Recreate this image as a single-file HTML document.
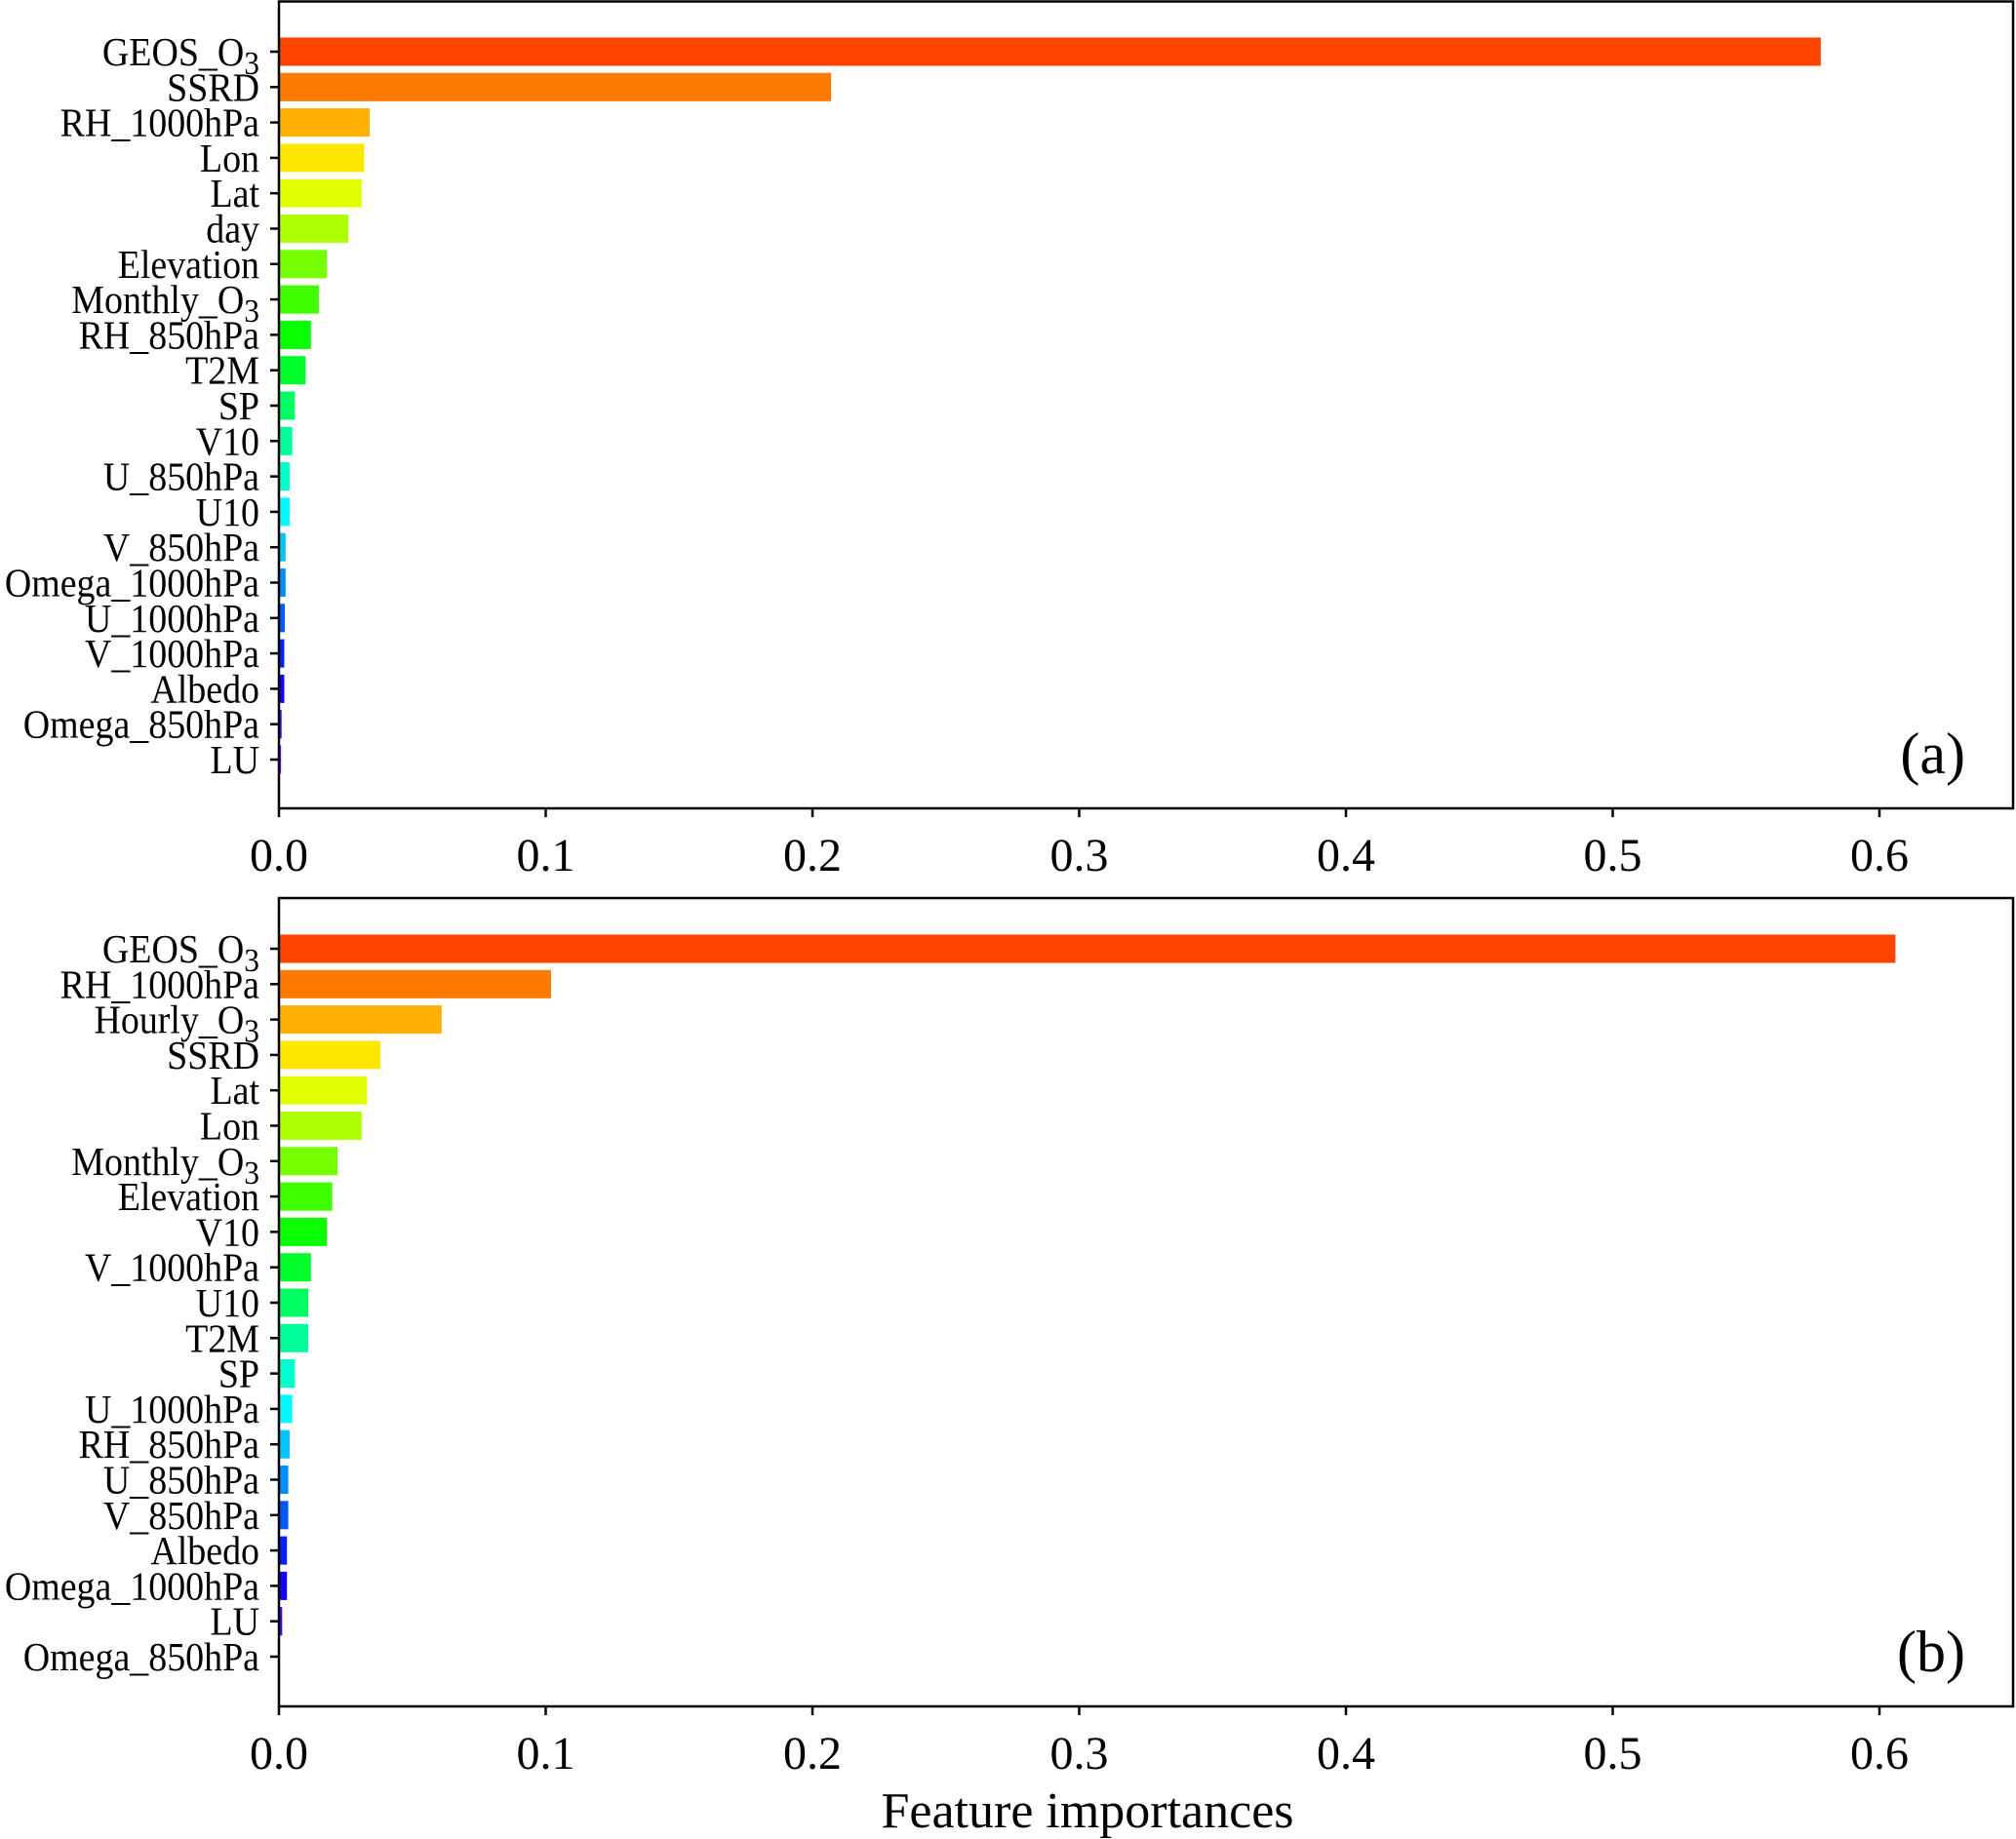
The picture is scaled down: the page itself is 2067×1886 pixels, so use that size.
<!DOCTYPE html>
<html><head><meta charset="utf-8"><style>
html,body{margin:0;padding:0;background:#fff}
svg{display:block;font-family:"Liberation Serif",serif}
</style></head><body>
<svg id="fig" width="2067" height="1886" viewBox="0 0 2067 1886"></svg>
<script>
const labelsA = ["GEOS_O3","SSRD","RH_1000hPa","Lon","Lat","day","Elevation","Monthly_O3","RH_850hPa","T2M","SP","V10","U_850hPa","U10","V_850hPa","Omega_1000hPa","U_1000hPa","V_1000hPa","Albedo","Omega_850hPa","LU"];
const valuesA = [0.578,0.207,0.034,0.032,0.031,0.026,0.018,0.015,0.012,0.010,0.006,0.005,0.004,0.004,0.0025,0.0025,0.0022,0.002,0.002,0.001,0.0008];
const labelsB = ["GEOS_O3","RH_1000hPa","Hourly_O3","SSRD","Lat","Lon","Monthly_O3","Elevation","V10","V_1000hPa","U10","T2M","SP","U_1000hPa","RH_850hPa","U_850hPa","V_850hPa","Albedo","Omega_1000hPa","LU","Omega_850hPa"];
const valuesB = [0.606,0.102,0.061,0.038,0.033,0.031,0.022,0.020,0.018,0.012,0.011,0.011,0.006,0.005,0.004,0.0035,0.0035,0.003,0.003,0.0012,0.0002];
const xTicks = [0.0,0.1,0.2,0.3,0.4,0.5,0.6];
const xTickLabels = ["0.0","0.1","0.2","0.3","0.4","0.5","0.6"];

const NS="http://www.w3.org/2000/svg";
const svg=document.getElementById('fig');
function mk(tag,attrs,parent){const e=document.createElementNS(NS,tag);for(const k in attrs)e.setAttribute(k,attrs[k]);(parent||svg).appendChild(e);return e;}
const X0=286, PX=(1927-286)/0.6;
function xs(v){return X0+v*PX;}
function setLabel(t,lab){
  const m=lab.match(/^(.*)_O3$/);
  if(m){t.appendChild(document.createTextNode(m[1]+"_O"));const s=document.createElementNS(NS,'tspan');s.setAttribute('dy','9');s.setAttribute('font-size','34');s.textContent='3';t.appendChild(s);}
  else t.textContent=lab;
}
function panel(name,labels,values,top,bottom,firstC,pitch,tag){
  const g=mk('g',{});
  
  
  const n=labels.length;
  labels.forEach((lab,i)=>{
    const cy=firstC+i*pitch, h=pitch*0.8;
    const hue=16+i*(270-16)/(n-1);
    const r=mk('rect',{x:xs(0),y:cy-h/2,width:Math.max(xs(values[i])-xs(0),0.5),height:h,fill:`hsl(${hue},100%,50%)`},g);
    
    
    mk('line',{x1:X0-9,x2:X0,y1:cy,y2:cy,stroke:'#000','stroke-width':2.5},g);
    const t=mk('text',{x:0,y:0,'text-anchor':'end','font-size':41,transform:`translate(${X0-20},${cy+14}) scale(0.925,1)`},g);
    
    
    setLabel(t,lab);
  });
  xTicks.forEach((v,i)=>{
    mk('line',{x1:xs(v),x2:xs(v),y1:bottom,y2:bottom+9,stroke:'#000','stroke-width':2.5},g);
    const t=mk('text',{x:0,y:0,'text-anchor':'middle','font-size':48,transform:`translate(${xs(v)},${bottom+64})`},g);
    
    
    t.textContent=xTickLabels[i];
  });
  const f=mk('rect',{x:X0,y:top,width:2064-X0,height:bottom-top,fill:'none',stroke:'#000','stroke-width':2.5},g);
  
  
  const p=mk('text',{x:2015,y:bottom-36,'text-anchor':'end','font-size':60},g);
  
  
  p.textContent=tag;
}
const pitch=(779-53)/20;
panel('panel-a',labelsA,valuesA,1.5,829,53,pitch,'(a)');
panel('panel-b',labelsB,valuesB,921,1750,973,pitch,'(b)');
const xl=mk('text',{x:0,y:0,'text-anchor':'middle','font-size':52,transform:'translate(1115,1874)'});


xl.textContent='Feature importances';
</script>
</body></html>
